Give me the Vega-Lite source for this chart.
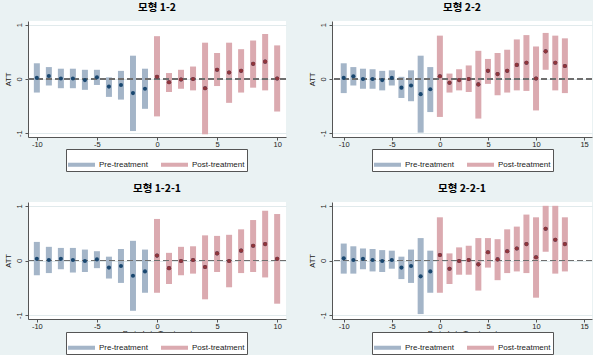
{
  "$schema": "https://vega.github.io/schema/vega-lite/v6.json",
  "background": "#eaf2f3",
  "padding": {"left": 4, "top": 2, "right": 0, "bottom": 0},
  "datasets": {
    "att": [
      {"model": "1-2", "period": -10, "att": 0.02, "lo": -0.25, "hi": 0.29, "phase": "Pre-treatment"},
      {"model": "1-2", "period": -9, "att": 0.055, "lo": -0.12, "hi": 0.22, "phase": "Pre-treatment"},
      {"model": "1-2", "period": -8, "att": 0.01, "lo": -0.17, "hi": 0.19, "phase": "Pre-treatment"},
      {"model": "1-2", "period": -7, "att": 0.01, "lo": -0.17, "hi": 0.19, "phase": "Pre-treatment"},
      {"model": "1-2", "period": -6, "att": -0.02, "lo": -0.2, "hi": 0.17, "phase": "Pre-treatment"},
      {"model": "1-2", "period": -5, "att": 0.03, "lo": -0.11, "hi": 0.17, "phase": "Pre-treatment"},
      {"model": "1-2", "period": -4, "att": -0.14, "lo": -0.33, "hi": 0.03, "phase": "Pre-treatment"},
      {"model": "1-2", "period": -3, "att": -0.11, "lo": -0.38, "hi": 0.15, "phase": "Pre-treatment"},
      {"model": "1-2", "period": -2, "att": -0.26, "lo": -0.96, "hi": 0.43, "phase": "Pre-treatment"},
      {"model": "1-2", "period": -1, "att": -0.18, "lo": -0.55, "hi": 0.19, "phase": "Pre-treatment"},
      {"model": "1-2", "period": 0, "att": 0.04, "lo": -0.69, "hi": 0.79, "phase": "Post-treatment"},
      {"model": "1-2", "period": 1, "att": -0.06, "lo": -0.24, "hi": 0.11, "phase": "Post-treatment"},
      {"model": "1-2", "period": 2, "att": -0.01, "lo": -0.18, "hi": 0.17, "phase": "Post-treatment"},
      {"model": "1-2", "period": 3, "att": 0.0, "lo": -0.21, "hi": 0.23, "phase": "Post-treatment"},
      {"model": "1-2", "period": 4, "att": -0.17, "lo": -1.02, "hi": 0.67, "phase": "Post-treatment"},
      {"model": "1-2", "period": 5, "att": 0.17, "lo": -0.13, "hi": 0.48, "phase": "Post-treatment"},
      {"model": "1-2", "period": 6, "att": 0.12, "lo": -0.44, "hi": 0.67, "phase": "Post-treatment"},
      {"model": "1-2", "period": 7, "att": 0.15, "lo": -0.25, "hi": 0.55, "phase": "Post-treatment"},
      {"model": "1-2", "period": 8, "att": 0.28, "lo": -0.16, "hi": 0.71, "phase": "Post-treatment"},
      {"model": "1-2", "period": 9, "att": 0.32, "lo": -0.21, "hi": 0.83, "phase": "Post-treatment"},
      {"model": "1-2", "period": 10, "att": 0.01, "lo": -0.6, "hi": 0.62, "phase": "Post-treatment"},

      {"model": "2-2", "period": -10, "att": 0.02, "lo": -0.26, "hi": 0.29, "phase": "Pre-treatment"},
      {"model": "2-2", "period": -9, "att": 0.05, "lo": -0.12, "hi": 0.22, "phase": "Pre-treatment"},
      {"model": "2-2", "period": -8, "att": 0.0, "lo": -0.18, "hi": 0.19, "phase": "Pre-treatment"},
      {"model": "2-2", "period": -7, "att": 0.0, "lo": -0.18, "hi": 0.18, "phase": "Pre-treatment"},
      {"model": "2-2", "period": -6, "att": -0.02, "lo": -0.21, "hi": 0.15, "phase": "Pre-treatment"},
      {"model": "2-2", "period": -5, "att": 0.02, "lo": -0.12, "hi": 0.16, "phase": "Pre-treatment"},
      {"model": "2-2", "period": -4, "att": -0.16, "lo": -0.35, "hi": 0.04, "phase": "Pre-treatment"},
      {"model": "2-2", "period": -3, "att": -0.12, "lo": -0.41, "hi": 0.16, "phase": "Pre-treatment"},
      {"model": "2-2", "period": -2, "att": -0.28, "lo": -0.99, "hi": 0.43, "phase": "Pre-treatment"},
      {"model": "2-2", "period": -1, "att": -0.19, "lo": -0.61, "hi": 0.22, "phase": "Pre-treatment"},
      {"model": "2-2", "period": 0, "att": 0.05, "lo": -0.7, "hi": 0.8, "phase": "Post-treatment"},
      {"model": "2-2", "period": 1, "att": -0.07, "lo": -0.25, "hi": 0.1, "phase": "Post-treatment"},
      {"model": "2-2", "period": 2, "att": -0.02, "lo": -0.21, "hi": 0.18, "phase": "Post-treatment"},
      {"model": "2-2", "period": 3, "att": 0.0, "lo": -0.24, "hi": 0.25, "phase": "Post-treatment"},
      {"model": "2-2", "period": 4, "att": -0.1, "lo": -0.73, "hi": 0.52, "phase": "Post-treatment"},
      {"model": "2-2", "period": 5, "att": 0.15, "lo": -0.09, "hi": 0.37, "phase": "Post-treatment"},
      {"model": "2-2", "period": 6, "att": 0.09, "lo": -0.3, "hi": 0.48, "phase": "Post-treatment"},
      {"model": "2-2", "period": 7, "att": 0.15, "lo": -0.25, "hi": 0.54, "phase": "Post-treatment"},
      {"model": "2-2", "period": 8, "att": 0.26, "lo": -0.21, "hi": 0.73, "phase": "Post-treatment"},
      {"model": "2-2", "period": 9, "att": 0.3, "lo": -0.22, "hi": 0.81, "phase": "Post-treatment"},
      {"model": "2-2", "period": 10, "att": 0.01, "lo": -0.58, "hi": 0.6, "phase": "Post-treatment"},
      {"model": "2-2", "period": 11, "att": 0.51, "lo": 0.17, "hi": 0.85, "phase": "Post-treatment"},
      {"model": "2-2", "period": 12, "att": 0.3, "lo": -0.21, "hi": 0.8, "phase": "Post-treatment"},
      {"model": "2-2", "period": 13, "att": 0.24, "lo": -0.26, "hi": 0.75, "phase": "Post-treatment"},

      {"model": "1-2-1", "period": -10, "att": 0.03, "lo": -0.27, "hi": 0.34, "phase": "Pre-treatment"},
      {"model": "1-2-1", "period": -9, "att": 0.01, "lo": -0.23, "hi": 0.25, "phase": "Pre-treatment"},
      {"model": "1-2-1", "period": -8, "att": 0.03, "lo": -0.16, "hi": 0.23, "phase": "Pre-treatment"},
      {"model": "1-2-1", "period": -7, "att": 0.01, "lo": -0.22, "hi": 0.23, "phase": "Pre-treatment"},
      {"model": "1-2-1", "period": -6, "att": -0.01, "lo": -0.21, "hi": 0.2, "phase": "Pre-treatment"},
      {"model": "1-2-1", "period": -5, "att": 0.02, "lo": -0.14, "hi": 0.17, "phase": "Pre-treatment"},
      {"model": "1-2-1", "period": -4, "att": -0.13, "lo": -0.33, "hi": 0.07, "phase": "Pre-treatment"},
      {"model": "1-2-1", "period": -3, "att": -0.1, "lo": -0.41, "hi": 0.21, "phase": "Pre-treatment"},
      {"model": "1-2-1", "period": -2, "att": -0.28, "lo": -0.92, "hi": 0.36, "phase": "Pre-treatment"},
      {"model": "1-2-1", "period": -1, "att": -0.2, "lo": -0.59, "hi": 0.2, "phase": "Pre-treatment"},
      {"model": "1-2-1", "period": 0, "att": 0.09, "lo": -0.59, "hi": 0.76, "phase": "Post-treatment"},
      {"model": "1-2-1", "period": 1, "att": -0.14, "lo": -0.43, "hi": 0.14, "phase": "Post-treatment"},
      {"model": "1-2-1", "period": 2, "att": -0.01, "lo": -0.27, "hi": 0.25, "phase": "Post-treatment"},
      {"model": "1-2-1", "period": 3, "att": 0.01, "lo": -0.24, "hi": 0.26, "phase": "Post-treatment"},
      {"model": "1-2-1", "period": 4, "att": -0.12, "lo": -0.71, "hi": 0.46, "phase": "Post-treatment"},
      {"model": "1-2-1", "period": 5, "att": 0.13, "lo": -0.21, "hi": 0.45, "phase": "Post-treatment"},
      {"model": "1-2-1", "period": 6, "att": -0.01, "lo": -0.49, "hi": 0.47, "phase": "Post-treatment"},
      {"model": "1-2-1", "period": 7, "att": 0.18, "lo": -0.23, "hi": 0.57, "phase": "Post-treatment"},
      {"model": "1-2-1", "period": 8, "att": 0.27, "lo": -0.21, "hi": 0.74, "phase": "Post-treatment"},
      {"model": "1-2-1", "period": 9, "att": 0.3, "lo": -0.31, "hi": 0.91, "phase": "Post-treatment"},
      {"model": "1-2-1", "period": 10, "att": 0.03, "lo": -0.79, "hi": 0.85, "phase": "Post-treatment"},

      {"model": "2-2-1", "period": -10, "att": 0.04, "lo": -0.24, "hi": 0.31, "phase": "Pre-treatment"},
      {"model": "2-2-1", "period": -9, "att": 0.01, "lo": -0.24, "hi": 0.26, "phase": "Pre-treatment"},
      {"model": "2-2-1", "period": -8, "att": 0.03, "lo": -0.16, "hi": 0.22, "phase": "Pre-treatment"},
      {"model": "2-2-1", "period": -7, "att": 0.01, "lo": -0.2, "hi": 0.21, "phase": "Pre-treatment"},
      {"model": "2-2-1", "period": -6, "att": -0.01, "lo": -0.21, "hi": 0.19, "phase": "Pre-treatment"},
      {"model": "2-2-1", "period": -5, "att": 0.01, "lo": -0.15, "hi": 0.18, "phase": "Pre-treatment"},
      {"model": "2-2-1", "period": -4, "att": -0.13, "lo": -0.34, "hi": 0.07, "phase": "Pre-treatment"},
      {"model": "2-2-1", "period": -3, "att": -0.1, "lo": -0.41, "hi": 0.2, "phase": "Pre-treatment"},
      {"model": "2-2-1", "period": -2, "att": -0.29, "lo": -0.98, "hi": 0.41, "phase": "Pre-treatment"},
      {"model": "2-2-1", "period": -1, "att": -0.2, "lo": -0.59, "hi": 0.18, "phase": "Pre-treatment"},
      {"model": "2-2-1", "period": 0, "att": 0.1, "lo": -0.59, "hi": 0.79, "phase": "Post-treatment"},
      {"model": "2-2-1", "period": 1, "att": -0.15, "lo": -0.43, "hi": 0.13, "phase": "Post-treatment"},
      {"model": "2-2-1", "period": 2, "att": -0.01, "lo": -0.26, "hi": 0.24, "phase": "Post-treatment"},
      {"model": "2-2-1", "period": 3, "att": 0.01, "lo": -0.26, "hi": 0.27, "phase": "Post-treatment"},
      {"model": "2-2-1", "period": 4, "att": -0.07, "lo": -0.55, "hi": 0.41, "phase": "Post-treatment"},
      {"model": "2-2-1", "period": 5, "att": 0.15, "lo": -0.13, "hi": 0.41, "phase": "Post-treatment"},
      {"model": "2-2-1", "period": 6, "att": 0.02, "lo": -0.36, "hi": 0.39, "phase": "Post-treatment"},
      {"model": "2-2-1", "period": 7, "att": 0.17, "lo": -0.23, "hi": 0.57, "phase": "Post-treatment"},
      {"model": "2-2-1", "period": 8, "att": 0.22, "lo": -0.2, "hi": 0.62, "phase": "Post-treatment"},
      {"model": "2-2-1", "period": 9, "att": 0.3, "lo": -0.23, "hi": 0.84, "phase": "Post-treatment"},
      {"model": "2-2-1", "period": 10, "att": 0.06, "lo": -0.68, "hi": 0.79, "phase": "Post-treatment"},
      {"model": "2-2-1", "period": 11, "att": 0.58, "lo": 0.16, "hi": 1.0, "phase": "Post-treatment"},
      {"model": "2-2-1", "period": 12, "att": 0.38, "lo": -0.24, "hi": 1.0, "phase": "Post-treatment"},
      {"model": "2-2-1", "period": 13, "att": 0.3, "lo": -0.2, "hi": 0.79, "phase": "Post-treatment"}
    ]
  },
  "data": {"name": "att"},
  "columns": 2,
  "spacing": {"column": 21, "row": 11},
  "resolve": {"scale": {"color": "independent"}, "legend": {"color": "independent"}},
  "concat": [
    {
      "title": "모형 1-2",
      "width": 258, "height": 116,
      "transform": [{"filter": "datum.model == '1-2'"}],
      "layer": [
        {"mark": {"type": "bar", "size": 6},
         "encoding": {
           "x": {"field": "period", "type": "quantitative", "scale": {"domain": [-10.32, 10.32], "nice": false, "zero": false}, "axis": {"values": [-10, -5, 0, 5, 10], "title": "Periods to Treatment"}},
           "y": {"field": "lo", "type": "quantitative", "scale": {"domain": [-1.07, 1.07], "nice": false}, "axis": {"values": [-1, -0.5, 0, 0.5, 1], "title": "ATT"}},
           "y2": {"field": "hi"},
           "color": {"field": "phase", "type": "nominal", "scale": {"domain": ["Pre-treatment", "Post-treatment"], "range": ["#a4b5c8", "#dbaab0"]}, "legend": {"orient": "none", "legendX": 38, "legendY": 128, "direction": "horizontal", "title": null}}}},
        {"mark": {"type": "rule", "color": "#6e6e6e", "strokeDash": [6, 3], "strokeWidth": 1}, "encoding": {"y": {"datum": 0}}},
        {"mark": {"type": "point", "shape": "circle", "filled": true, "size": 17, "opacity": 1, "color": "#1a476f"},
         "encoding": {
           "x": {"field": "period", "type": "quantitative"},
           "y": {"field": "att", "type": "quantitative"}}},
        {"mark": {"type": "point", "shape": "circle", "filled": true, "size": 17, "opacity": 1, "color": "#90353b"},
         "transform": [{"filter": "datum.period >= 0"}],
         "encoding": {
           "x": {"field": "period", "type": "quantitative"},
           "y": {"field": "att", "type": "quantitative"}}}
      ]
    },
    {
      "title": "모형 2-2",
      "width": 260, "height": 116,
      "transform": [{"filter": "datum.model == '2-2'"}],
      "layer": [
        {"mark": {"type": "bar", "size": 6},
         "encoding": {
           "x": {"field": "period", "type": "quantitative", "scale": {"domain": [-10.7, 15.3], "nice": false, "zero": false}, "axis": {"values": [-10, -5, 0, 5, 10, 15], "title": "Periods to Treatment"}},
           "y": {"field": "lo", "type": "quantitative", "scale": {"domain": [-1.07, 1.07], "nice": false}, "axis": {"values": [-1, -0.5, 0, 0.5, 1], "title": "ATT"}},
           "y2": {"field": "hi"},
           "color": {"field": "phase", "type": "nominal", "scale": {"domain": ["Pre-treatment", "Post-treatment"], "range": ["#a4b5c8", "#dbaab0"]}, "legend": {"orient": "none", "legendX": 40, "legendY": 128, "direction": "horizontal", "title": null}}}},
        {"mark": {"type": "rule", "color": "#6e6e6e", "strokeDash": [6, 3], "strokeWidth": 1}, "encoding": {"y": {"datum": 0}}},
        {"mark": {"type": "point", "shape": "circle", "filled": true, "size": 17, "opacity": 1, "color": "#1a476f"},
         "encoding": {
           "x": {"field": "period", "type": "quantitative"},
           "y": {"field": "att", "type": "quantitative"}}},
        {"mark": {"type": "point", "shape": "circle", "filled": true, "size": 17, "opacity": 1, "color": "#90353b"},
         "transform": [{"filter": "datum.period >= 0"}],
         "encoding": {
           "x": {"field": "period", "type": "quantitative"},
           "y": {"field": "att", "type": "quantitative"}}}
      ]
    },
    {
      "title": "모형 1-2-1",
      "width": 258, "height": 117,
      "transform": [{"filter": "datum.model == '1-2-1'"}],
      "layer": [
        {"mark": {"type": "bar", "size": 6},
         "encoding": {
           "x": {"field": "period", "type": "quantitative", "scale": {"domain": [-10.32, 10.32], "nice": false, "zero": false}, "axis": {"values": [-10, -5, 0, 5, 10], "title": "Periods to Treatment"}},
           "y": {"field": "lo", "type": "quantitative", "scale": {"domain": [-1.07, 1.07], "nice": false}, "axis": {"values": [-1, -0.5, 0, 0.5, 1], "title": "ATT"}},
           "y2": {"field": "hi"},
           "color": {"field": "phase", "type": "nominal", "scale": {"domain": ["Pre-treatment", "Post-treatment"], "range": ["#a4b5c8", "#dbaab0"]}, "legend": {"orient": "none", "legendX": 38, "legendY": 130, "direction": "horizontal", "title": null}}}},
        {"mark": {"type": "rule", "color": "#6e6e6e", "strokeDash": [6, 3], "strokeWidth": 1}, "encoding": {"y": {"datum": 0}}},
        {"mark": {"type": "point", "shape": "circle", "filled": true, "size": 17, "opacity": 1, "color": "#1a476f"},
         "encoding": {
           "x": {"field": "period", "type": "quantitative"},
           "y": {"field": "att", "type": "quantitative"}}},
        {"mark": {"type": "point", "shape": "circle", "filled": true, "size": 17, "opacity": 1, "color": "#90353b"},
         "transform": [{"filter": "datum.period >= 0"}],
         "encoding": {
           "x": {"field": "period", "type": "quantitative"},
           "y": {"field": "att", "type": "quantitative"}}}
      ]
    },
    {
      "title": "모형 2-2-1",
      "width": 260, "height": 117,
      "transform": [{"filter": "datum.model == '2-2-1'"}],
      "layer": [
        {"mark": {"type": "bar", "size": 6},
         "encoding": {
           "x": {"field": "period", "type": "quantitative", "scale": {"domain": [-10.7, 15.3], "nice": false, "zero": false}, "axis": {"values": [-10, -5, 0, 5, 10, 15], "title": "Periods to Treatment"}},
           "y": {"field": "lo", "type": "quantitative", "scale": {"domain": [-1.07, 1.07], "nice": false}, "axis": {"values": [-1, -0.5, 0, 0.5, 1], "title": "ATT"}},
           "y2": {"field": "hi"},
           "color": {"field": "phase", "type": "nominal", "scale": {"domain": ["Pre-treatment", "Post-treatment"], "range": ["#a4b5c8", "#dbaab0"]}, "legend": {"orient": "none", "legendX": 40, "legendY": 130, "direction": "horizontal", "title": null}}}},
        {"mark": {"type": "rule", "color": "#6e6e6e", "strokeDash": [6, 3], "strokeWidth": 1}, "encoding": {"y": {"datum": 0}}},
        {"mark": {"type": "point", "shape": "circle", "filled": true, "size": 17, "opacity": 1, "color": "#1a476f"},
         "encoding": {
           "x": {"field": "period", "type": "quantitative"},
           "y": {"field": "att", "type": "quantitative"}}},
        {"mark": {"type": "point", "shape": "circle", "filled": true, "size": 17, "opacity": 1, "color": "#90353b"},
         "transform": [{"filter": "datum.period >= 0"}],
         "encoding": {
           "x": {"field": "period", "type": "quantitative"},
           "y": {"field": "att", "type": "quantitative"}}}
      ]
    }
  ],
  "config": {
    "view": {"fill": "white", "stroke": null},
    "font": "Liberation Sans",
    "title": {"font": "Noto Sans CJK KR", "fontSize": 10.5, "fontWeight": "bold", "color": "#000000", "offset": 8, "anchor": "middle"},
    "axis": {"labelFont": "Liberation Sans", "titleFont": "Liberation Sans", "labelFontSize": 7.5, "titleFontSize": 7.5, "titleFontWeight": "normal", "labelColor": "#222", "titleColor": "#222", "domainColor": "#555", "tickColor": "#555", "tickSize": 3},
    "axisX": {"grid": false, "labelPadding": 0, "titleY": 16, "titleBaseline": "alphabetic", "labelExpr": "replace(datum.label, '\u2212', '-')"},
    "axisY": {"grid": true, "gridColor": "#e1eaec", "labelAngle": -90, "labelAlign": "center", "labelBaseline": "bottom", "labelPadding": 2, "titlePadding": 3, "labelExpr": "replace(replace(format(datum.value, '~g'), '0.', '.'), '\u2212', '-')"},
    "legend": {"symbolType": "M-1,-0.15H1V0.15H-1Z", "symbolSize": 729, "symbolStrokeWidth": 0, "symbolOpacity": 1, "labelFont": "Liberation Sans", "labelFontSize": 8, "labelColor": "#222", "labelOffset": 4, "columnPadding": 13, "padding": 2, "strokeColor": "#555", "fillColor": "white"}
  }
}
